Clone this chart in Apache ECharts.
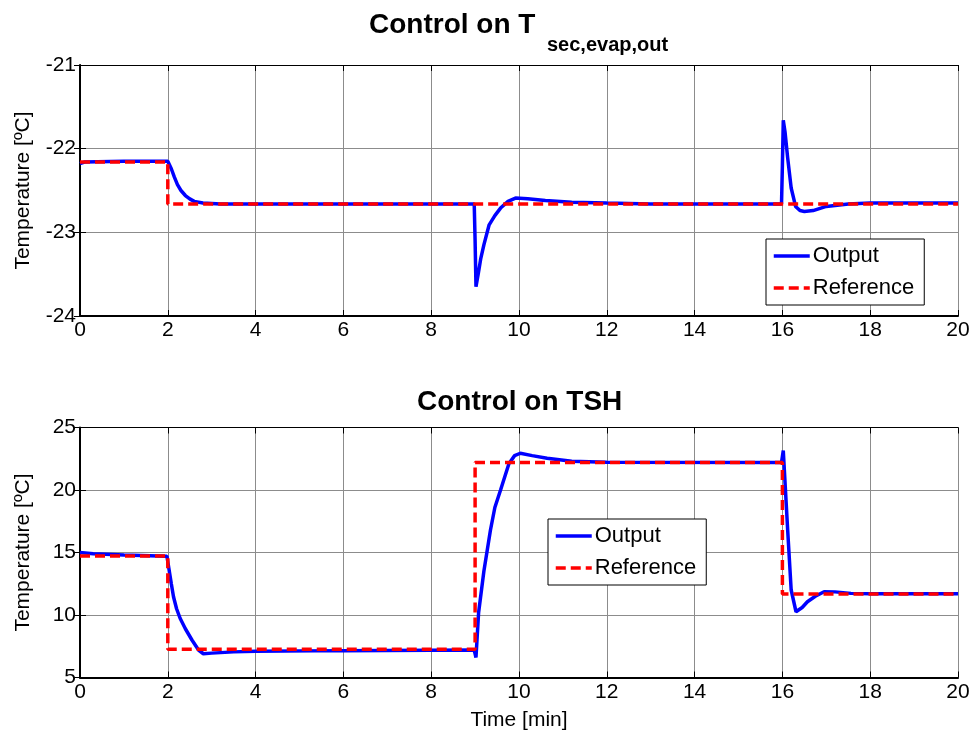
<!DOCTYPE html>
<html>
<head>
<meta charset="utf-8">
<script src="https://cdn.jsdelivr.net/npm/echarts@6/dist/echarts.min.js"></script>
<style>
  html, body { margin: 0; padding: 0; background: #fff; }
  #chart { width: 976px; height: 738px; }
</style>
</head>
<body>
<div id="chart"></div>
<script>
// x ticks (min)
var xTicks = [0, 2, 4, 6, 8, 10, 12, 14, 16, 18, 20];

// top plot: T_sec,evap,out
var topOutput = [
  [0, -22.18], [0.1, -22.16], [1, -22.15], [2, -22.15], [2.02, -22.17], [2.08, -22.24],
  [2.15, -22.34], [2.22, -22.43], [2.3, -22.5], [2.4, -22.56], [2.5, -22.6], [2.6, -22.63],
  [2.8, -22.65], [3.2, -22.66], [5, -22.66], [8.98, -22.66], [9.0, -23.1], [9.02, -23.65],
  [9.07, -23.5], [9.13, -23.31], [9.2, -23.15], [9.32, -22.91], [9.45, -22.8], [9.58, -22.71],
  [9.75, -22.63], [9.92, -22.59], [10.2, -22.6], [10.6, -22.62], [11.2, -22.64], [12, -22.65],
  [13, -22.66], [15.98, -22.66], [16.0, -22.2], [16.02, -21.66], [16.06, -21.8], [16.12, -22.11],
  [16.2, -22.47], [16.3, -22.69], [16.4, -22.74], [16.5, -22.75], [16.7, -22.74], [17, -22.69],
  [17.5, -22.66], [18, -22.65], [20, -22.65]
];
var topReference = [[0, -22.16], [2, -22.16], [2, -22.66], [20, -22.66]];

// bottom plot: TSH
var botOutput = [
  [0, 15.0], [0.3, 14.9], [1, 14.8], [1.98, 14.7], [2.02, 14.6], [2.08, 12.5], [2.13, 11.46],
  [2.2, 10.5], [2.28, 9.74], [2.4, 8.9], [2.55, 8.0], [2.7, 7.2], [2.81, 6.9], [3.0, 6.95],
  [3.5, 7.05], [4, 7.1], [6, 7.15], [8.98, 7.2], [9.02, 6.6], [9.08, 10.2], [9.2, 13.5],
  [9.35, 16.8], [9.45, 18.6], [9.58, 20.0], [9.77, 22.1], [9.9, 22.75], [10.03, 22.94],
  [10.3, 22.75], [10.64, 22.54], [11.2, 22.3], [12, 22.22], [15.98, 22.2], [16.02, 23.15],
  [16.12, 16.8], [16.2, 12.0], [16.31, 10.26], [16.45, 10.6], [16.57, 11.06], [16.75, 11.5],
  [16.95, 11.86], [17.2, 11.85], [17.56, 11.73], [18, 11.7], [20, 11.7]
];
var botReference = [[0, 14.72], [2, 14.72], [2, 7.26], [9, 7.26], [9, 22.2], [16, 22.2], [16, 11.68], [20, 11.68]];

var chart = echarts.init(document.getElementById('chart'));
var font = 'Liberation Sans, Arial, sans-serif';

function xAxisPair(gi, showName) {
  return [{
    gridIndex: gi, type: 'value', min: 0, max: 20, interval: 2, position: 'bottom',
    name: showName ? 'Time [min]' : '', nameLocation: 'middle', nameGap: 32,
    nameTextStyle: { fontFamily: font, fontSize: 21, color: '#000' },
    axisLine: { onZero: false, lineStyle: { color: '#000', width: 2 } },
    axisTick: { inside: true, length: 6, lineStyle: { color: '#000' } },
    axisLabel: { fontFamily: font, fontSize: 21, color: '#000', margin: 4 },
    splitLine: { show: true, lineStyle: { color: '#8c8c8c', width: 1 } }
  }, {
    gridIndex: gi, type: 'value', min: 0, max: 20, interval: 2, position: 'top',
    axisLine: { lineStyle: { color: '#000', width: 1 } },
    axisTick: { inside: true, length: 6, lineStyle: { color: '#000' } },
    axisLabel: { show: false }, splitLine: { show: false }
  }];
}

function yAxisPair(gi, min, max, step) {
  return [{
    gridIndex: gi, type: 'value', min: min, max: max, interval: step, position: 'left',
    name: 'Temperature [ºC]', nameLocation: 'middle', nameGap: 46,
    nameTextStyle: { fontFamily: font, fontSize: 21, color: '#000' },
    axisLine: { onZero: false, lineStyle: { color: '#000', width: 2 } },
    axisTick: { inside: true, length: 6, lineStyle: { color: '#000' } },
    axisLabel: { fontFamily: font, fontSize: 21, color: '#000', margin: 4 },
    splitLine: { show: true, lineStyle: { color: '#8c8c8c', width: 1 } }
  }, {
    gridIndex: gi, type: 'value', min: min, max: max, interval: step, position: 'right',
    axisLine: { show: true, lineStyle: { color: '#000', width: 1 } },
    axisTick: { show: true, inside: true, length: 6, lineStyle: { color: '#000' } },
    axisLabel: { show: false }, splitLine: { show: false }
  }];
}

function legendAt(left, top) {
  return {
    left: left, top: top, orient: 'vertical',
    data: ['Output', 'Reference'],
    backgroundColor: '#fff', borderColor: '#000', borderWidth: 1, borderRadius: 0,
    padding: [4, 10, 4, 6], itemGap: 6, itemWidth: 36, itemHeight: 14,
    itemStyle: { opacity: 0 },
    lineStyle: { width: 3.5 },
    textStyle: { fontFamily: font, fontSize: 22, color: '#000', lineHeight: 26, padding: [0, 0, 0, -2] },
    selectedMode: false
  };
}

function outputSeries(xi, yi, data) {
  return {
    name: 'Output', type: 'line', xAxisIndex: xi, yAxisIndex: yi, data: data,
    showSymbol: false, symbol: 'none', animation: false,
    lineStyle: { color: '#0000ff', width: 3.5 }, itemStyle: { color: '#0000ff' }
  };
}

function refSeries(xi, yi, data) {
  return {
    name: 'Reference', type: 'line', xAxisIndex: xi, yAxisIndex: yi, data: data,
    showSymbol: false, symbol: 'none', animation: false,
    lineStyle: { color: '#ff0000', width: 3.5, type: [10, 5] }, itemStyle: { color: '#ff0000' }
  };
}

var option = {
  backgroundColor: '#fff',
  animation: false,
  title: [
    { text: 'Control on T', left: 364, top: 6, textStyle: { fontFamily: font, fontSize: 28, fontWeight: 'bold', color: '#000' } },
    { text: 'sec,evap,out', left: 542, top: 30, textStyle: { fontFamily: font, fontSize: 20, fontWeight: 'bold', color: '#000' } },
    { text: 'Control on TSH', left: 412, top: 383, textStyle: { fontFamily: font, fontSize: 28, fontWeight: 'bold', color: '#000' } }
  ],
  legend: [legendAt(766, 239), legendAt(548, 519)],
  grid: [
    { left: 80, right: 18, top: 65, height: 251, show: true, borderColor: '#000', borderWidth: 0, backgroundColor: '#fff' },
    { left: 80, right: 18, top: 427.5, height: 250, show: true, borderColor: '#000', borderWidth: 0, backgroundColor: '#fff' }
  ],
  xAxis: xAxisPair(0, false).concat(xAxisPair(1, true)),
  yAxis: yAxisPair(0, -24, -21, 1).concat(yAxisPair(1, 5, 25, 5)),
  series: [
    outputSeries(0, 0, topOutput),
    refSeries(0, 0, topReference),
    outputSeries(2, 2, botOutput),
    refSeries(2, 2, botReference)
  ]
};
chart.setOption(option);
</script>
</body>
</html>
